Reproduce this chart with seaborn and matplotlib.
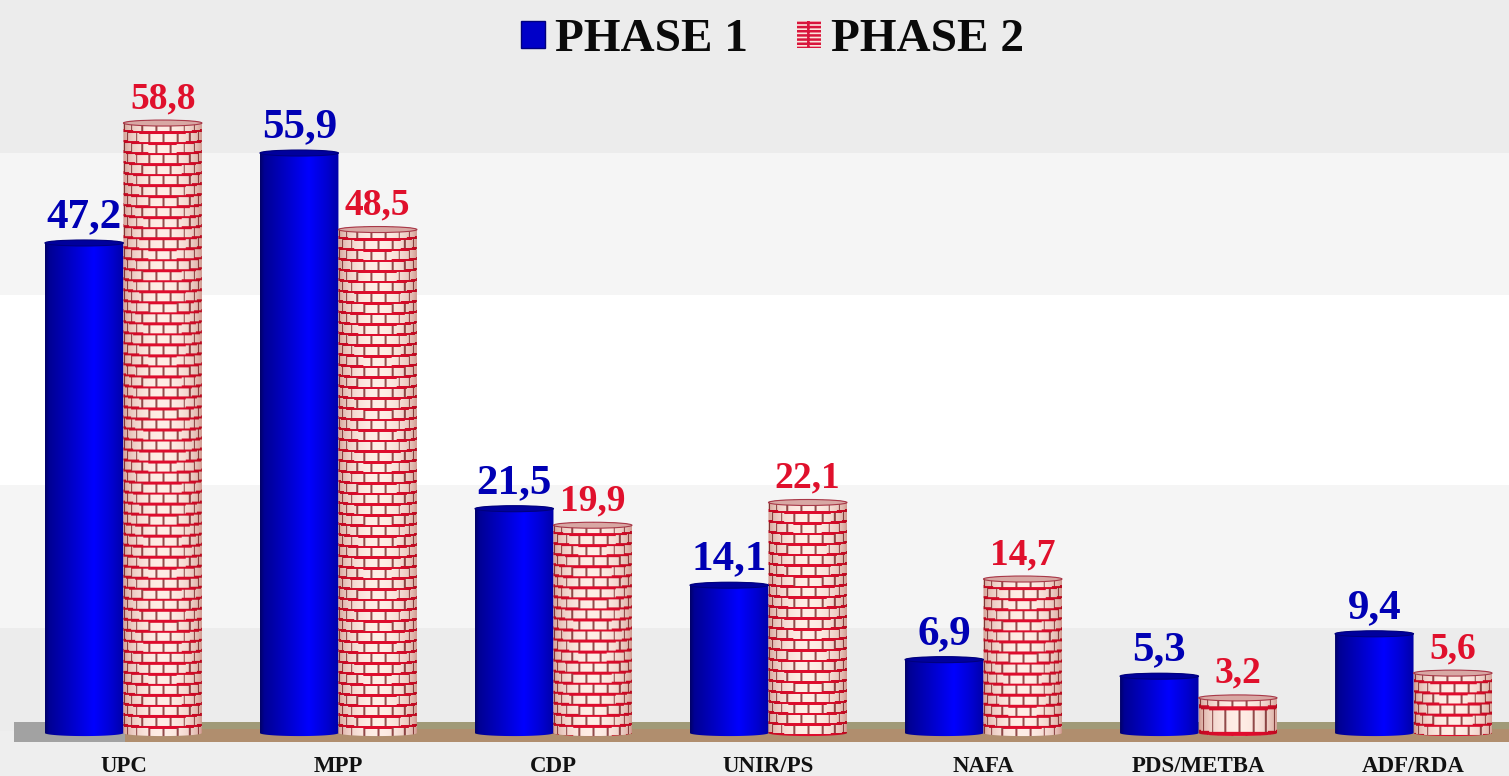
import numpy as np
import pandas as pd
import seaborn as sns
import matplotlib.pyplot as plt
from matplotlib.patches import Ellipse, Patch, PathPatch
from matplotlib.path import Path

# 데이터
parties = ['UPC', 'MPP', 'CDP', 'UNIR/PS', 'NAFA', 'PDS/METBA', 'ADF/RDA']
phase1 = [47.2, 55.9, 21.5, 14.1, 6.9, 5.3, 9.4]
phase2 = [58.8, 48.5, 19.9, 22.1, 14.7, 3.2, 5.6]
phases = ['PHASE 1', 'PHASE 2']

sns.set_theme(style='white')
plt.rcParams['font.family'] = ['Liberation Serif', 'DejaVu Serif']
plt.rcParams['hatch.linewidth'] = 1.8

df = pd.DataFrame({
    'party': parties * 2,
    'score': phase1 + phase2,
    'phase': [phases[0]] * len(parties) + [phases[1]] * len(parties),
})

BLUE = '#0000c8'
RED = '#e0102c'
PX_PER_UNIT = 10.34

fig = plt.figure(figsize=(15.09, 7.76), dpi=100, facecolor='#eeeeee')
ax = fig.add_axes([0, 34 / 776, 1, 742 / 776], facecolor='#eeeeee')

sns.barplot(data=df, x='party', y='score', hue='phase', hue_order=phases,
            palette=[BLUE, '#f8dcd8'], width=0.73, gap=0, saturation=1,
            legend=False, ax=ax, zorder=3)

xlim = (-0.574, 6.444)
ylim = (-1.064, 70.7)


def blue_texture(w):
    s = np.linspace(0, 1, w)
    # 왼쪽은 어둡고 가운데 오른쪽이 밝은 원기둥
    shade = np.interp(s, [0, 0.05, 0.3, 0.62, 0.85, 1], [0.42, 0.58, 0.76, 1.0, 0.82, 0.66])
    img = np.zeros((1, w, 3))
    img[..., 2] = shade
    return img


def brick_texture(w, h, row_h):
    yy, xx = np.mgrid[0:h, 0:w]
    s = 2 * (xx + 0.5) / w - 1
    theta = np.arcsin(s)
    # 원기둥 곡면을 따라 벽돌 줄이 휘어짐
    y = yy - 3 * np.sqrt(1 - s ** 2) - 9
    row = np.floor(y / row_h).astype(int)
    u = theta / (np.pi / 8.5) + 0.5 * (row % 2)
    img = np.ones((h, w, 3)) * np.array([1.0, 0.93, 0.90])
    vert = (u - np.floor(u)) < 0.14
    img[vert] = [0.58, 0.30, 0.30]
    horiz = (y % row_h) < (4.0 if row_h > 20 else 2.6)
    img[horiz] = [0.88, 0.05, 0.18]
    # 가장자리는 붉은 갈색으로 어두워짐
    shade = np.sqrt(1 - s ** 2)[..., None]
    img = img * (np.array([0.78, 0.58, 0.55]) + np.array([0.22, 0.42, 0.45]) * shade)
    return np.clip(img, 0, 1)


def cylinder_path(x0, x1, top):
    cx = (x0 + x1) / 2
    rx = (x1 - x0) / 2
    ry = 3 / PX_PER_UNIT
    t = np.linspace(np.pi, 0, 40)
    upper = np.c_[cx + rx * np.cos(t), top + ry * np.sin(t)]
    lower = np.c_[cx + rx * np.cos(t[::-1]), -0.2 - ry * np.sin(t[::-1])]
    return Path(np.r_[upper, lower, upper[:1]])


px_w = 215  # x축 한 칸의 픽셀 크기
for i, cont in enumerate(ax.containers):
    for bar in cont:
        x0 = bar.get_x()
        x1 = x0 + bar.get_width()
        top = bar.get_height()
        bar.set_visible(False)
        w = int(round(bar.get_width() * px_w))
        h = int(round((top + 1.0) * PX_PER_UNIT))
        if i == 0:
            img = blue_texture(w)
        else:
            img = brick_texture(w, h, 25 if top < 4 else 10.6)
        im = ax.imshow(img, extent=(x0, x1, -0.7, top + 0.3), aspect='auto',
                       interpolation='bilinear', zorder=3)
        im.set_clip_path(PathPatch(cylinder_path(x0, x1, top), transform=ax.transData))
        cap = Ellipse(((x0 + x1) / 2, top), x1 - x0, 6 / PX_PER_UNIT, zorder=4,
                      facecolor='#00009c' if i == 0 else '#d8a8a4',
                      edgecolor='#00007c' if i == 0 else '#a83848', linewidth=0.8)
        ax.add_patch(cap)

for cont, vals, col, size in zip(ax.containers, [phase1, phase2], ['#0000b4', RED], [31, 27]):
    ax.bar_label(cont, labels=[f'{v:.1f}'.replace('.', ',') for v in vals], padding=5,
                 color=col, fontsize=size, fontweight='bold', zorder=6)

# 배경 띠
for lo, hi, col in [(0, 10, '#ececec'), (10, 23.8, '#f5f5f5'), (23.8, 42.2, '#ffffff'),
                    (42.2, 55.9, '#f5f5f5'), (55.9, 70.7, '#ececec')]:
    ax.axhspan(lo, hi, color=col, lw=0, zorder=0)
ax.axhspan(0, 0.87, xmin=14 / 1509, color='#a09a78', lw=0, zorder=1)
ax.axhspan(-1.064, 0.2, xmin=14 / 1509, color='#b08e6e', lw=0, zorder=1)
ax.axhspan(-1.064, 0.87, xmin=14 / 1509, xmax=125 / 1509, color='#a2a2a2', lw=0, zorder=2)

ax.set_xlim(*xlim)
ax.set_ylim(*ylim)
ax.set_xlabel('')
ax.set_ylabel('')
ax.set_yticks([])
ax.tick_params(axis='x', length=0, pad=10)
for lab in ax.get_xticklabels():
    lab.set_fontsize(16.5)
    lab.set_fontweight('bold')
    lab.set_color('#111111')
sns.despine(ax=ax, left=True, bottom=True)

handles = [Patch(facecolor=BLUE, edgecolor='#00007c', linewidth=1),
           Patch(facecolor='#fbe4dc', edgecolor='#d8153c', hatch='---+', linewidth=0)]
leg = ax.legend(handles, phases, loc='upper center', bbox_to_anchor=(0.512, 1.0), ncol=2,
                frameon=False, handlelength=0.5, handleheight=0.5,
                handletextpad=0.22, columnspacing=1.03, borderaxespad=0.3, borderpad=0.1,
                prop={'weight': 'bold', 'size': 34})
for t in leg.get_texts():
    t.set_color('#0a0a0a')

fig.savefig('out.png', dpi=100)
